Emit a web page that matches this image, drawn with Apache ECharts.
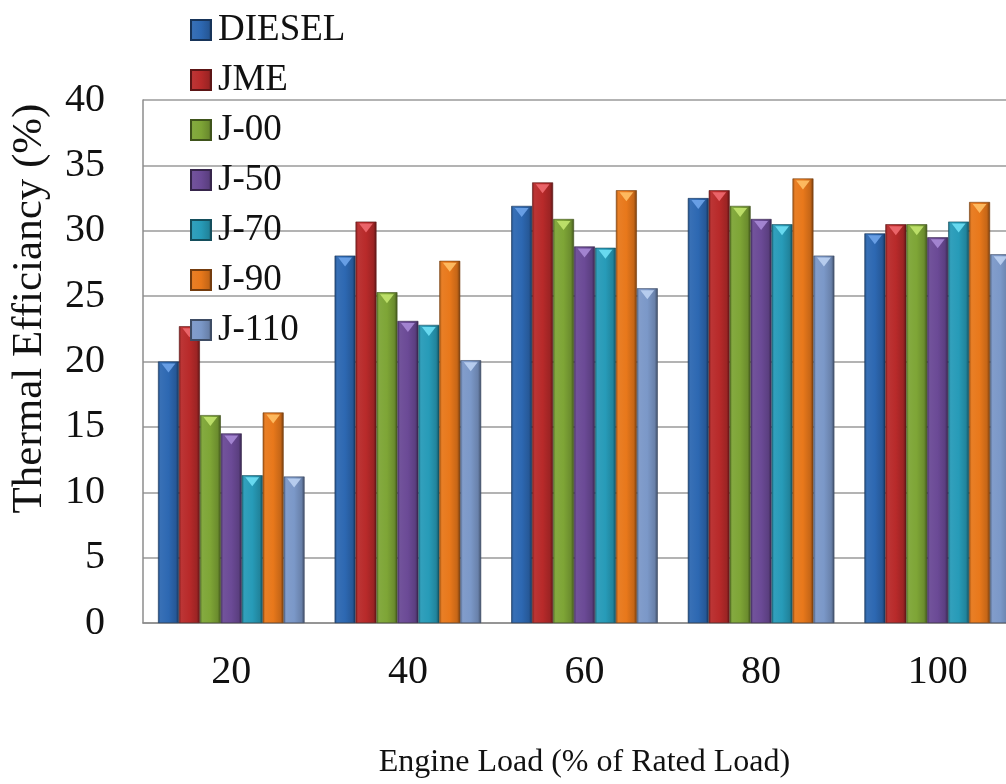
<!DOCTYPE html>
<html>
<head>
<meta charset="utf-8">
<script src="https://cdn.jsdelivr.net/npm/echarts@6/dist/echarts.min.js"></script>
<style>
html,body{margin:0;padding:0;background:#fff;overflow:hidden;}
#chart{width:1030px;height:784px;}
</style>
</head>
<body>
<div id="chart"></div>
<script>
// ---- data ----
var categories = ['20', '40', '60', '80', '100'];
var seriesNames = ['DIESEL', 'JME', 'J-00', 'J-50', 'J-70', 'J-90', 'J-110'];
var diesel = [20.0, 28.1, 31.9, 32.5, 29.8];
var jme    = [22.7, 30.7, 33.7, 33.1, 30.5];
var j00    = [15.9, 25.3, 30.9, 31.9, 30.5];
var j50    = [14.5, 23.1, 28.8, 30.9, 29.5];
var j70    = [11.3, 22.8, 28.7, 30.5, 30.7];
var j90    = [16.1, 27.7, 33.1, 34.0, 32.2];
var j110   = [11.2, 20.1, 25.6, 28.1, 28.2];
var yTicks = [0, 5, 10, 15, 20, 25, 30, 35, 40];
var xTitle = 'Engine Load (% of Rated Load)';
var yTitle = 'Thermal Efficiancy (%)';

var allValues = [diesel, jme, j00, j50, j70, j90, j110];
var baseColors = ['#2d68b2', '#b82a2a', '#7ea536', '#6b4a96', '#279bb8', '#e8781b', '#7b98c8'];
var topColors  = ['#6ea4ea', '#f06a70', '#c2e46e', '#a98ad6', '#6fe0f5', '#ffc066', '#bcd2f2'];

function shade(hex, f) {
  var n = parseInt(hex.slice(1), 16);
  var r = (n >> 16) & 255, g = (n >> 8) & 255, b = n & 255;
  function c(v) { v = f < 0 ? v * (1 + f) : v + (255 - v) * f; return Math.max(0, Math.min(255, Math.round(v))); }
  return 'rgb(' + c(r) + ',' + c(g) + ',' + c(b) + ')';
}
function grad(hex) {
  return new echarts.graphic.LinearGradient(0, 0, 1, 0, [
    {offset: 0, color: shade(hex, -0.3)},
    {offset: 0.12, color: shade(hex, 0.05)},
    {offset: 0.5, color: hex},
    {offset: 0.85, color: shade(hex, -0.15)},
    {offset: 1, color: shade(hex, -0.5)}
  ]);
}

var FONT = '"Liberation Serif", "Times New Roman", serif';
var GAP = '0%', CATGAP = '17%';

var series = [];
seriesNames.forEach(function (name, i) {
  series.push({
    name: name,
    type: 'bar',
    data: allValues[i],
    barGap: GAP,
    barCategoryGap: CATGAP,
    itemStyle: {color: grad(baseColors[i]), borderColor: shade(baseColors[i], -0.5), borderWidth: 0.6},
    emphasis: {disabled: true}
  });
});
seriesNames.forEach(function (name, i) {
  series.push({
    name: name,
    type: 'pictorialBar',
    data: allValues[i],
    barGap: GAP,
    barCategoryGap: CATGAP,
    symbol: 'triangle',
    symbolRotate: 180,
    symbolSize: ['66%', 9],
    symbolPosition: 'end',
    symbolOffset: [0, 2],
    itemStyle: {color: topColors[i], opacity: 0.9},
    z: 3,
    emphasis: {disabled: true}
  });
});

var chart = echarts.init(document.getElementById('chart'), null, {renderer: 'canvas'});
chart.setOption({
  animation: false,
  backgroundColor: '#ffffff',
  textStyle: {fontFamily: FONT},
  legend: {
    data: seriesNames.map(function (n, i) { return {name: n, itemStyle: {color: grad(baseColors[i])}}; }),
    orient: 'vertical',
    left: 190,
    top: 10,
    padding: 0,
    itemWidth: 20,
    itemHeight: 20,
    itemGap: 10,
    icon: 'rect',
    selectedMode: false,
    textStyle: {fontFamily: FONT, fontSize: 37, color: '#111', lineHeight: 36, padding: [4, 0, 0, 2]}
  },
  grid: {left: 143, top: 100, right: 4, height: 525, containLabel: false},
  xAxis: {
    type: 'category',
    data: categories,
    name: xTitle,
    nameLocation: 'middle',
    nameGap: 124,
    nameTextStyle: {fontFamily: FONT, fontSize: 32, color: '#111'},
    axisLine: {show: true, lineStyle: {color: '#8c8c8c', width: 1.5}},
    axisTick: {show: false},
    axisLabel: {fontFamily: FONT, fontSize: 40, color: '#111', margin: 29}
  },
  yAxis: {
    type: 'value',
    min: 0,
    max: 40,
    interval: 5,
    name: yTitle,
    nameLocation: 'middle',
    nameGap: 92,
    nameTextStyle: {fontFamily: FONT, fontSize: 43, color: '#111', padding: [0, 0, 0, 106]},
    axisLine: {show: true, lineStyle: {color: '#8c8c8c', width: 1.5}},
    axisTick: {show: false},
    axisLabel: {
      fontFamily: FONT, fontSize: 40, color: '#111', margin: 38,
      formatter: function (v) { return yTicks.indexOf(v) >= 0 ? String(v) : ''; }
    },
    splitLine: {show: true, lineStyle: {color: '#9a9a9a', width: 1.5}}
  },
  series: series
});
</script>
</body>
</html>
